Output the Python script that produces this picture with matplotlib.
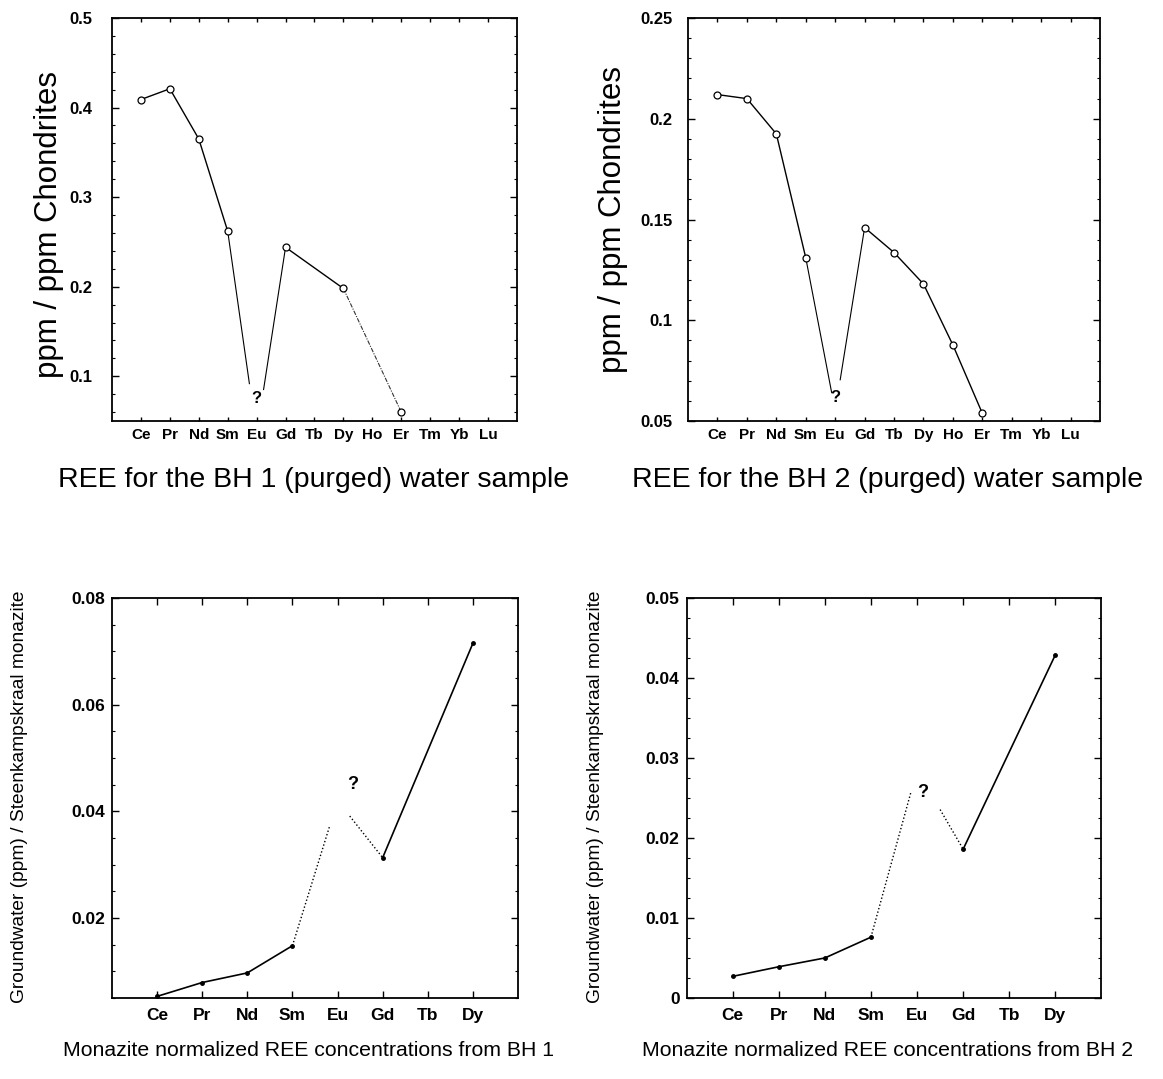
import numpy as np
import matplotlib.pyplot as plt
from matplotlib.ticker import MultipleLocator, FixedLocator

nan = np.nan

# top row: chondrite normalised REE in purged borehole water
ree_top = ["Ce", "Pr", "Nd", "Sm", "Eu", "Gd", "Tb", "Dy", "Ho", "Er", "Tm", "Yb", "Lu"]
bh1_chondrite = [0.409, 0.421, 0.365, 0.262, nan, 0.244, nan, 0.198, nan, 0.060, nan, nan, nan]
bh2_chondrite = [0.212, 0.210, 0.1925, 0.131, nan, 0.146, 0.1336, 0.118, 0.0877, 0.0538, nan, nan, nan]
eu_guess_top = [0.035, 0.055]
top_titles = ["REE for the BH 1 (purged) water sample",
              "REE for the BH 2 (purged) water sample"]

# bottom row: monazite normalised
ree_bottom = ["Ce", "Pr", "Nd", "Sm", "Eu", "Gd", "Tb", "Dy"]
bh1_monazite = [0.0053, 0.0079, 0.0097, 0.0148, nan, 0.0313, nan, 0.0715]
bh2_monazite = [0.0027, 0.0039, 0.0050, 0.0076, nan, 0.0186, nan, 0.0429]
eu_guess_bottom = [0.042, 0.0285]
bottom_titles = ["Monazite normalized REE concentrations from BH 1",
                 "Monazite normalized REE concentrations from BH 2"]

SANS = ["Liberation Sans", "DejaVu Sans"]

fig = plt.figure(figsize=(11.63, 10.79), dpi=100)


def draw_series(ax, vals, eu_val, cut_in, cut_out, solid_kw, gap_kw, tail_kw=None):
    v = np.array(vals, dtype=float)
    x = np.arange(1, len(v) + 1)
    i_sm, i_eu, i_gd = 3, 4, 5
    ok = ~np.isnan(v)
    left = ok & (x <= i_sm + 1)
    right = ok & (x >= i_gd + 1)
    ax.plot(x[left], v[left], **solid_kw)
    # approach to the uncertain Eu value, broken around the "?"
    xa = [x[i_sm], x[i_sm] + cut_in]
    ya = [v[i_sm], v[i_sm] + cut_in * (eu_val - v[i_sm])]
    ax.plot(xa, ya, **gap_kw)
    xb = [x[i_eu] + cut_out, x[i_gd]]
    yb = [eu_val + cut_out * (v[i_gd] - eu_val), v[i_gd]]
    ax.plot(xb, yb, **gap_kw)
    xr, yr = x[right], v[right]
    if tail_kw is None:
        ax.plot(xr, yr, **solid_kw)
    else:
        ax.plot(xr[:-1], yr[:-1], **solid_kw)
        ax.plot(xr[-2:], yr[-2:], **tail_kw)
    return x, v


def fmt_tick(val, pos):
    return ("%.4f" % val).rstrip("0").rstrip(".")


def style_axes(ax, labels, xlim, ylim, major, minor, ysize, xsize, ypad, xpad, xtick_len):
    ax.set_xlim(*xlim)
    ax.set_ylim(*ylim)
    ax.xaxis.set_major_locator(FixedLocator(np.arange(1, len(labels) + 1)))
    ax.set_xticklabels(labels, family=SANS, weight="bold", fontsize=xsize)
    ax.yaxis.set_major_locator(MultipleLocator(major))
    ax.yaxis.set_minor_locator(MultipleLocator(minor))
    ax.yaxis.set_major_formatter(plt.FuncFormatter(fmt_tick))
    ax.tick_params(axis="x", which="major", direction="in", length=xtick_len, width=1,
                   pad=xpad, top=True)
    ax.tick_params(axis="y", which="major", direction="in", length=5, width=1,
                   pad=ypad, right=True)
    ax.tick_params(axis="y", which="minor", direction="in", length=2.5, width=0.8, right=True)
    for s in ax.spines.values():
        s.set_linewidth(1.3)


def bold_yticks(ax, size):
    for lab in ax.get_yticklabels():
        lab.set_fontfamily(SANS)
        lab.set_fontweight("bold")
        lab.set_fontsize(size)


top_pos = [[0.0963, 0.6098, 0.3482, 0.3735], [0.5916, 0.6098, 0.3543, 0.3735]]
top_ylim = [(0.05, 0.5), (0.05, 0.25)]
top_major = [0.1, 0.05]
top_minor = [0.02, 0.01]
top_series = [bh1_chondrite, bh2_chondrite]
top_cuts = [(0.75, 0.24), (0.88, 0.17)]
top_q = [0.075, 0.0615]
top_ypad = [14, 11]
top_ysize = [12, 12]
top_ylabel_x = [0.042, 0.527]
top_ylabel_y = [0.792, 0.797]
top_title_x = [0.270, 0.763]

circle = dict(linestyle="none", marker="o", markersize=5, markerfacecolor="white",
              markeredgecolor="black", markeredgewidth=0.9, zorder=3)

for k in range(2):
    ax = fig.add_axes(top_pos[k])
    solid = dict(color="black", lw=1.0)
    gap = dict(color="black", lw=0.8)
    tail = dict(color="#333333", lw=0.8, linestyle=(0, (4, 1.2, 1, 1.2))) if k == 0 else None
    x, v = draw_series(ax, top_series[k], eu_guess_top[k], top_cuts[k][0], top_cuts[k][1],
                       solid, gap, tail)
    ax.plot(x, v, **circle)
    ax.text(5, top_q[k], "?", ha="center", va="center", fontsize=12, weight="bold",
            family=SANS)
    style_axes(ax, ree_top, (0, 14), top_ylim[k], top_major[k], top_minor[k],
               top_ysize[k], 11, top_ypad[k], 5, 3)
    bold_yticks(ax, top_ysize[k])
    fig.text(top_ylabel_x[k], top_ylabel_y[k], "ppm / ppm Chondrites", rotation=90,
             ha="center", va="center", fontsize=22.5, family=SANS)
    fig.text(top_title_x[k], 1 - 480 / 1079, top_titles[k], ha="center", va="center",
             fontsize=20.5, family=SANS)

bot_pos = [[0.0963, 0.0751, 0.3491, 0.3707], [0.5903, 0.0751, 0.3568, 0.3707]]
bot_ylim = [(0.005, 0.08), (0.0, 0.05)]
bot_major = [0.02, 0.01]
bot_minor = [0.005, 0.0025]
bot_series = [bh1_monazite, bh2_monazite]
bot_cuts = [(0.83, 0.27), (0.87, 0.5)]
bot_q = [0.0450, 0.0257]
bot_qx = [5.33, 5.12]
bot_ylabel_x = [0.017, 0.512]
bot_title_x = [0.265, 0.763]

dot = dict(linestyle="none", marker="o", markersize=2.5, color="black", zorder=3)

for k in range(2):
    ax = fig.add_axes(bot_pos[k])
    solid = dict(color="black", lw=1.2)
    gap = dict(color="black", lw=1.0, linestyle=(0, (1, 1.6)))
    x, v = draw_series(ax, bot_series[k], eu_guess_bottom[k], bot_cuts[k][0], bot_cuts[k][1],
                       solid, gap)
    ax.plot(x, v, **dot)
    ax.text(bot_qx[k], bot_q[k], "?", ha="center", va="center", fontsize=13,
            weight="bold", family=SANS)
    style_axes(ax, ree_bottom, (0, 9), bot_ylim[k], bot_major[k], bot_minor[k],
               12.5, 12.5, 5, 7, 5)
    if k == 0:
        ax.yaxis.set_major_locator(FixedLocator([0.02, 0.04, 0.06, 0.08]))
    bold_yticks(ax, 12.5)
    fig.text(bot_ylabel_x[k], 1 - 797 / 1079, "Groundwater (ppm) / Steenkampskraal monazite",
             rotation=90, ha="center", va="center", fontsize=13.8, family=SANS)
    fig.text(bot_title_x[k], 1 - 1050 / 1079, bottom_titles[k], ha="center", va="center",
             fontsize=15.3, family=SANS)

fig.savefig("out.png", dpi=100)
